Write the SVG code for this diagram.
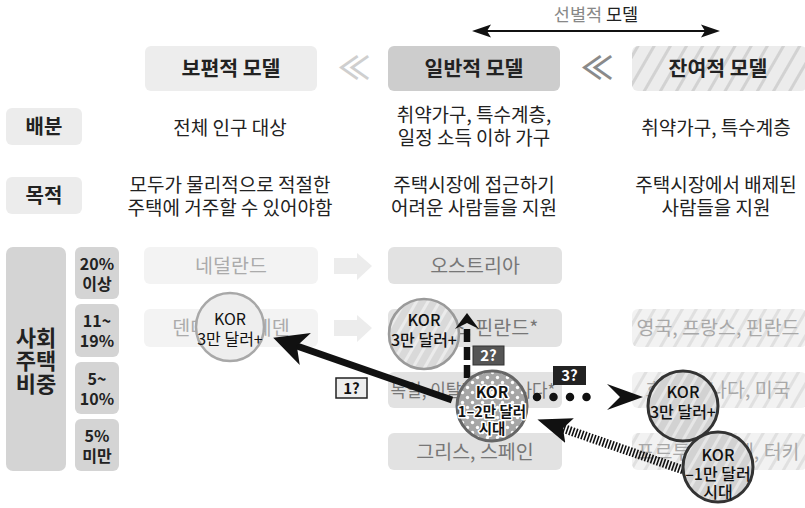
<svg xmlns="http://www.w3.org/2000/svg" width="805" height="508" viewBox="0 0 805 508">
<defs>
<style>
text{font-family:'Noto Sans CJK KR','Noto Sans',sans-serif;text-anchor:middle}
.hd{font-size:20.5px;font-weight:700;fill:#222}
.row{font-size:19px;fill:#222}
.lbl{font-size:20px;font-weight:700;fill:#222}
.pct{font-size:16px;font-weight:700;fill:#222}
.big{font-size:22px;font-weight:700;fill:#222}
.c1{font-size:19.5px;fill:#ababab}
.c2{font-size:19.5px;fill:#777}
.c3{font-size:19.5px;fill:#a8a8a8}
.kor{font-size:16px;fill:#111}
.korb{font-size:15.5px;font-weight:700;fill:#111;stroke:#fff;stroke-width:3;paint-order:stroke;stroke-linejoin:round}
.kord{font-size:16px;font-weight:500;fill:#111}
.tag{font-size:15px;font-weight:700}
</style>
<pattern id="hatchHead" width="14" height="14" patternUnits="userSpaceOnUse" patternTransform="rotate(30)">
<rect width="14" height="14" fill="#ececec"/><rect width="3" height="14" fill="#d2d2d2"/>
</pattern>
<pattern id="hatchBox" width="12" height="12" patternUnits="userSpaceOnUse" patternTransform="rotate(30)">
<rect width="12" height="12" fill="#f2f2f2"/><rect width="3" height="12" fill="#e0e0e0"/>
</pattern>
<pattern id="hatchB" width="10" height="10" patternUnits="userSpaceOnUse" patternTransform="rotate(30)">
<rect width="10" height="10" fill="#d9d9d9"/><rect width="3" height="10" fill="#ebebeb"/>
</pattern>
<pattern id="hatchD" width="10" height="10" patternUnits="userSpaceOnUse" patternTransform="rotate(30)">
<rect width="10" height="10" fill="#d2d2d2"/><rect width="3" height="10" fill="#e6e6e6"/>
</pattern>
<pattern id="dots" width="10" height="10" patternUnits="userSpaceOnUse">
<rect width="10" height="10" fill="#a6a6a6"/><circle cx="2.5" cy="2.5" r="1.7" fill="#fff"/><circle cx="7.5" cy="7.5" r="1.7" fill="#fff"/>
</pattern>
<marker id="headA" viewBox="0 0 34 34" refX="12" refY="17" markerWidth="34" markerHeight="34" markerUnits="userSpaceOnUse" orient="auto">
<path d="M0,0 L34,17 L0,34 L9,17 Z" fill="#111"/>
</marker>
<marker id="headB" viewBox="0 0 16 24" refX="4" refY="12" markerWidth="16" markerHeight="24" markerUnits="userSpaceOnUse" orient="auto">
<path d="M0,0 L16,12 L0,24 L6,12 Z" fill="#111"/>
</marker>
<marker id="headC" viewBox="0 0 40 26" refX="0" refY="13" markerWidth="40" markerHeight="26" markerUnits="userSpaceOnUse" orient="auto">
<path d="M4,0 L40,13 L4,26 L17,13 Z" fill="#111"/>
</marker>
<marker id="headD" viewBox="0 0 34 26" refX="8" refY="13" markerWidth="34" markerHeight="26" markerUnits="userSpaceOnUse" orient="auto">
<path d="M0,0 L34,13 L0,26 L7,13 Z" fill="#111"/>
</marker>
</defs>
<rect width="805" height="508" fill="#fff"/>

<g id="selective">
<text x="596" y="21" style="font-size:17.5px;fill:#888">선별적 <tspan fill="#222">모델</tspan></text>
<line x1="486" y1="31" x2="706" y2="31" stroke="#111" stroke-width="2"/>
<path d="M472,31 L491,24.5 L487,31 L491,37.5 Z" fill="#111"/>
<path d="M720,31 L701,24.5 L705,31 L701,37.5 Z" fill="#111"/>
</g>

<g id="head-universal"><rect x="145" y="46" width="172" height="45" rx="6" fill="#ededed"/><text class="hd" x="231" y="76">보편적 모델</text></g>
<g id="head-general"><rect x="388" y="46" width="172" height="45" rx="6" fill="#cdcdcd"/><text class="hd" x="474" y="76">일반적 모델</text></g>
<g id="head-residual"><rect x="632" y="46" width="175" height="45" rx="6" fill="url(#hatchHead)"/><text class="hd" x="718" y="76">잔여적 모델</text></g>
<g id="chev1"><text x="354" y="79" style="font-size:32px;font-weight:700;fill:#cfcfcf">≪</text></g>
<g id="chev2"><text x="597" y="79" style="font-size:32px;font-weight:700;fill:#8a8a8a">≪</text></g>

<g id="lbl-dist"><rect x="6" y="108" width="76" height="37" rx="6" fill="#ececec"/><text class="lbl" x="44" y="134">배분</text></g>
<g id="lbl-goal"><rect x="6" y="177" width="76" height="37" rx="6" fill="#ececec"/><text class="lbl" x="44" y="203">목적</text></g>

<g id="dist-1"><text class="row" x="230" y="135">전체 인구 대상</text></g>
<g id="dist-2"><text class="row" x="474" y="122">취약가구, 특수계층,</text><text class="row" x="474" y="145">일정 소득 이하 가구</text></g>
<g id="dist-3"><text class="row" x="716" y="135">취약가구, 특수계층</text></g>
<g id="goal-1"><text class="row" x="230" y="192">모두가 물리적으로 적절한</text><text class="row" x="230" y="215">주택에 거주할 수 있어야함</text></g>
<g id="goal-2"><text class="row" x="474" y="192">주택시장에 접근하기</text><text class="row" x="474" y="215">어려운 사람들을 지원</text></g>
<g id="goal-3"><text class="row" x="716" y="192">주택시장에서 배제된</text><text class="row" x="716" y="215">사람들을 지원</text></g>

<g id="lbl-share"><rect x="6" y="247" width="60" height="224" rx="7" fill="#d4d4d4"/>
<text class="big" x="36" y="346">사회</text>
<text class="big" x="36" y="369">주택</text>
<text class="big" x="36" y="392">비중</text></g>
<g id="p20"><rect x="75" y="247" width="44" height="52" rx="6" fill="#d4d4d4"/><text class="pct" x="97" y="270">20%</text><text class="pct" x="97" y="290">이상</text></g>
<g id="p11"><rect x="75" y="304" width="44" height="53" rx="6" fill="#d4d4d4"/><text class="pct" x="97" y="327">11~</text><text class="pct" x="97" y="347">19%</text></g>
<g id="p5"><rect x="75" y="362" width="44" height="52" rx="6" fill="#d4d4d4"/><text class="pct" x="97" y="385">5~</text><text class="pct" x="97" y="405">10%</text></g>
<g id="p0"><rect x="75" y="419" width="44" height="52" rx="6" fill="#d4d4d4"/><text class="pct" x="97" y="442">5%</text><text class="pct" x="97" y="462">미만</text></g>

<g id="nl"><rect x="144" y="247" width="174" height="37" rx="6" fill="#f3f3f3"/><text class="c1" x="231" y="273">네덜란드</text></g>
<g id="dk"><rect x="144" y="309" width="174" height="38" rx="6" fill="#f3f3f3"/><text class="c1" x="231" y="335">덴마크, 스웨덴</text></g>
<g id="ga1"><path d="M334,258 H357 V253 L372,266 L357,280 V274 H334 Z" fill="#ececec"/></g>
<g id="ga2"><path d="M334,320 H357 V315 L372,328 L357,342 V336 H334 Z" fill="#ececec"/></g>

<g id="at"><rect x="388" y="247" width="174" height="37" rx="6" fill="#e2e2e2"/><text class="c2" x="475" y="273">오스트리아</text></g>
<g id="fr"><rect x="388" y="309" width="174" height="38" rx="6" fill="#e2e2e2"/><text class="c2" x="475" y="335">프랑스, 핀란드*</text></g>
<g id="de"><rect x="388" y="372" width="174" height="36" rx="6" fill="#e2e2e2"/><text class="c2" x="473" y="397" style="font-size:18px" textLength="165" lengthAdjust="spacingAndGlyphs">독일, 이탈리아, 캐나다*</text></g>
<g id="gr"><rect x="388" y="433" width="174" height="37" rx="6" fill="#e2e2e2"/><text class="c2" x="475" y="459">그리스, 스페인</text></g>

<g id="uk"><rect x="632" y="309" width="175" height="38" rx="6" fill="url(#hatchBox)"/><text class="c3" x="718" y="335">영국, 프랑스, 핀란드</text></g>
<g id="us"><rect x="632" y="372" width="175" height="36" rx="6" fill="url(#hatchBox)"/><text class="c3" x="718" y="397">호주, 캐나다, 미국</text></g>
<g id="pt"><rect x="632" y="433" width="175" height="37" rx="6" fill="url(#hatchBox)"/><text class="c3" x="718" y="459">포르투갈, 칠레, 터키</text></g>

<g id="korA"><circle cx="230" cy="327" r="34" fill="#eeeeee" stroke="#a8a8a8" stroke-width="2.5"/><text class="kor" x="230" y="325">KOR</text><text class="kor" x="230" y="345">3만 달러+</text></g>
<g id="korB"><circle cx="424" cy="334" r="35" fill="url(#hatchB)" stroke="#9a9a9a" stroke-width="2.5"/><text class="kord" x="424" y="326">KOR</text><text class="kord" x="424" y="346">3만 달러+</text></g>

<g id="connectors">
<line x1="452" y1="400" x2="294" y2="345" stroke="#111" stroke-width="7" marker-end="url(#headA)"/>
<line x1="467" y1="378" x2="467" y2="325" stroke="#111" stroke-width="6.5" stroke-dasharray="13 5" marker-end="url(#headB)"/>
<path d="M537,397 H603" stroke="#111" stroke-width="8.5" stroke-linecap="round" stroke-dasharray="0 16.5" fill="none" marker-end="url(#headC)"/>
<line x1="692" y1="473" x2="562" y2="428" stroke="#111" stroke-width="9" stroke-dasharray="1.6 1.6" marker-end="url(#headD)"/>
</g>

<g id="tag1"><rect x="336" y="378" width="31" height="20" fill="#eeeeee" stroke="#222" stroke-width="1.5"/><text class="tag" x="351.5" y="394" fill="#111">1?</text></g>
<g id="tag2"><rect x="473" y="346" width="31" height="19" fill="#555" stroke="#333" stroke-width="1"/><text class="tag" x="488.5" y="361" fill="#fff">2?</text></g>
<g id="tag3"><rect x="553" y="366" width="33" height="19" fill="#222"/><text class="tag" x="569.5" y="381" fill="#fff">3?</text></g>

<g id="korC"><circle cx="492" cy="406" r="35" fill="url(#dots)" stroke="#666" stroke-width="3"/><text class="korb" x="492" y="398">KOR</text><text class="korb" x="492" y="417" style="font-size:14.5px">1–2만 달러</text><text class="korb" x="492" y="434" style="font-size:14.5px">시대</text></g>
<g id="korD"><circle cx="683" cy="406" r="35" fill="url(#hatchD)" stroke="#333" stroke-width="3"/><text class="kord" x="683" y="398">KOR</text><text class="kord" x="683" y="418">3만 달러+</text></g>
<g id="korE"><circle cx="718" cy="467" r="35" fill="url(#hatchD)" stroke="#333" stroke-width="3"/><text class="kord" x="718" y="461">KOR</text><text class="kord" x="718" y="480">–1만 달러</text><text class="kord" x="718" y="498">시대</text></g>
</svg>
